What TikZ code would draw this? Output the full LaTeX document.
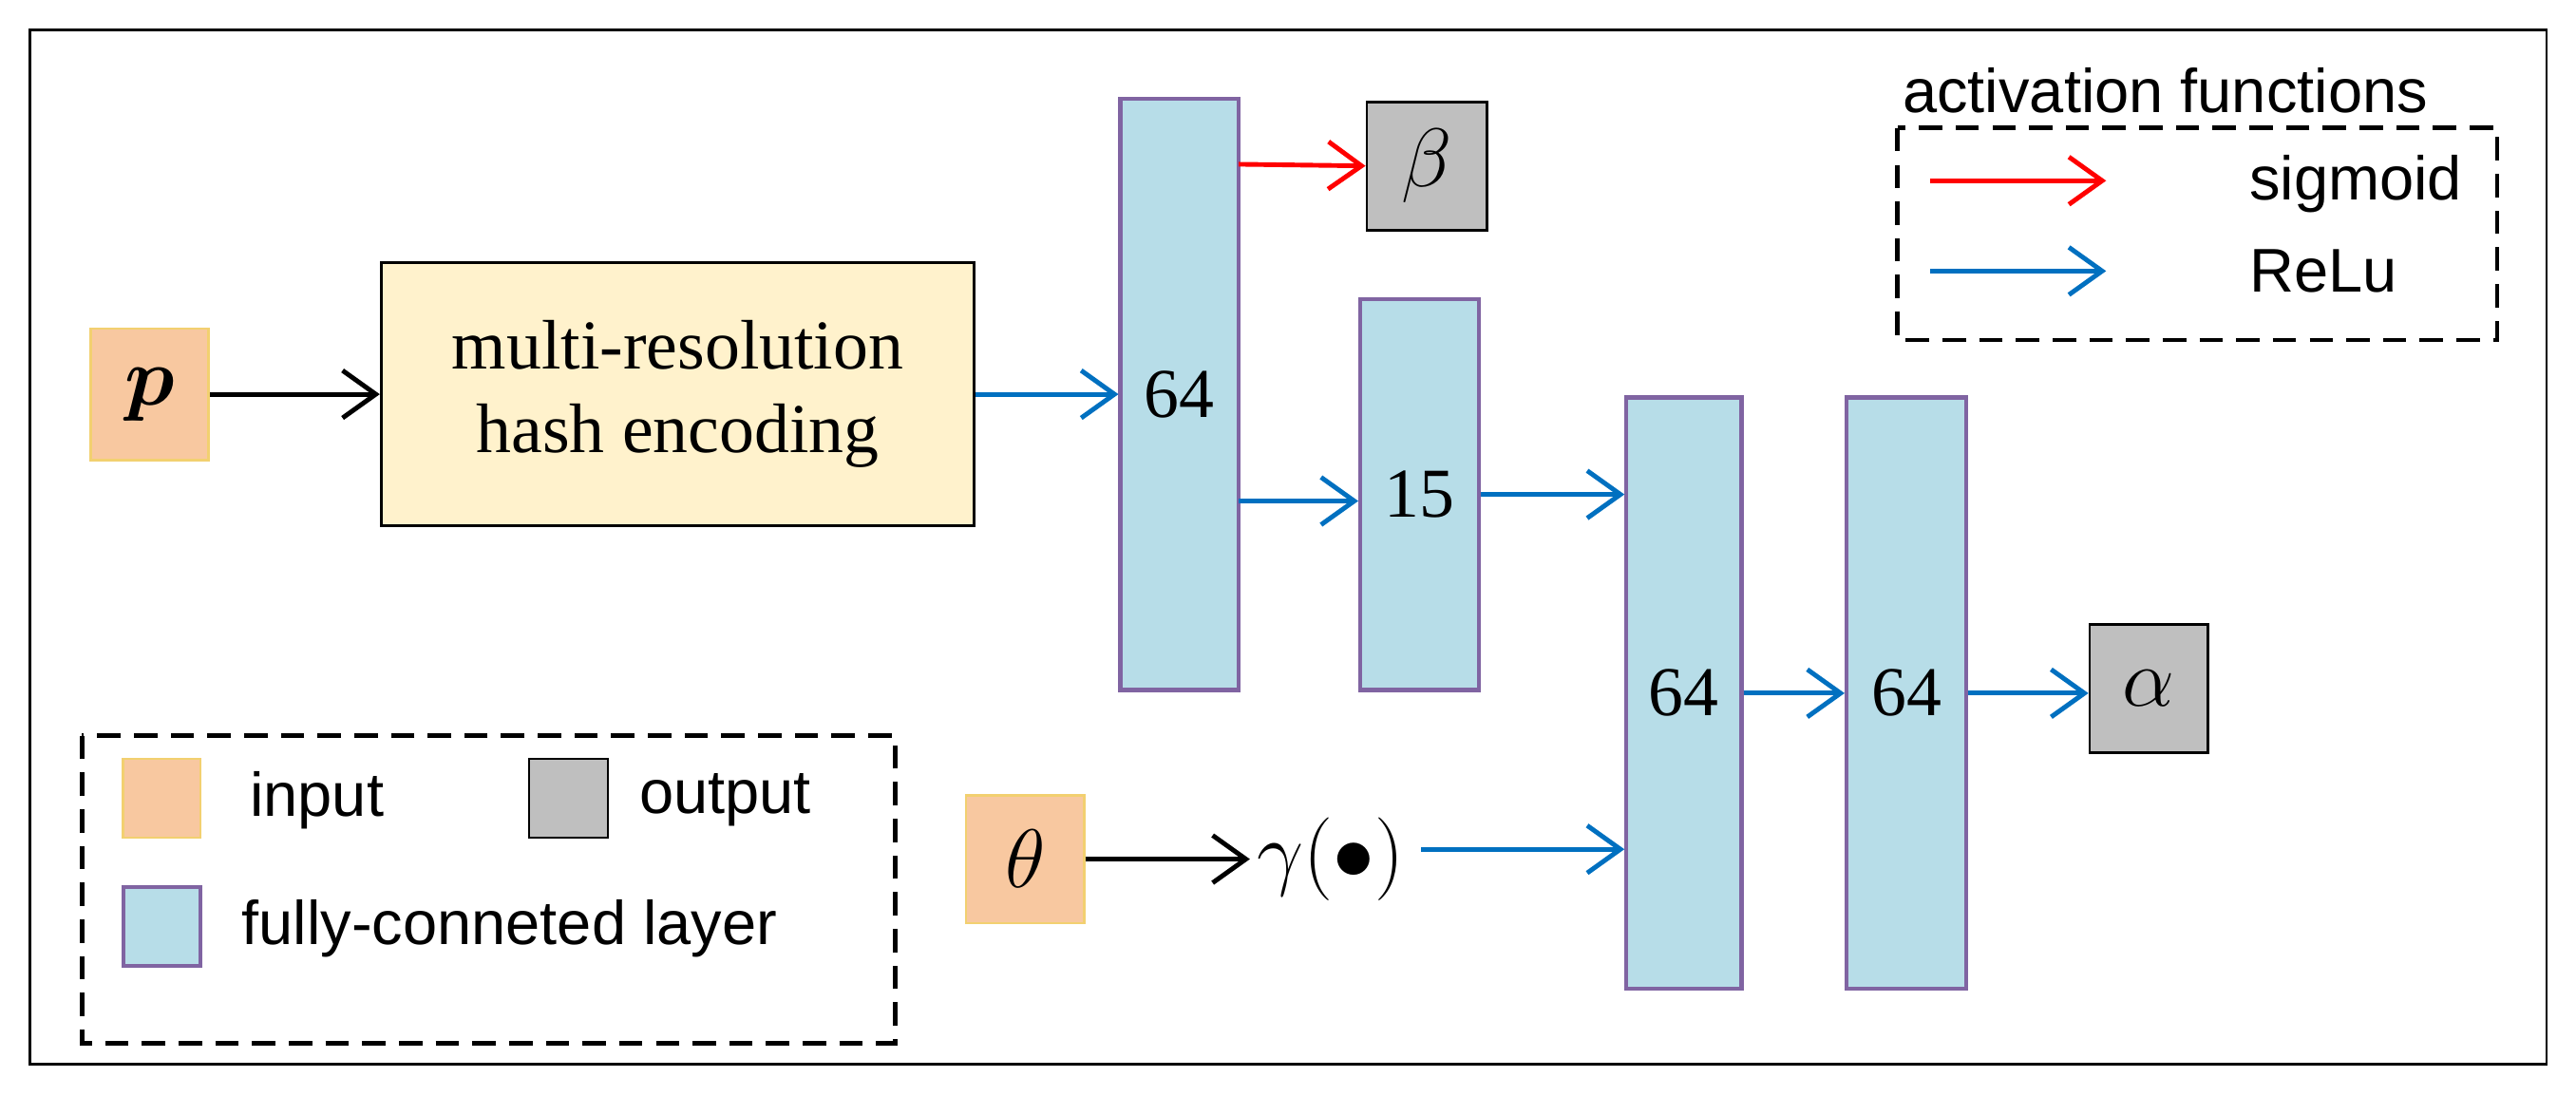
\documentclass[tikz,border=0pt]{standalone}
\usepackage{amsmath}
\usepackage{bm}
\usepackage{fontspec}
\setmainfont{Liberation Serif}
\newfontfamily\sans{Liberation Sans}
\usetikzlibrary{arrows.meta}
\definecolor{inp}{HTML}{F8C8A0}
\definecolor{inpb}{HTML}{F2D070}
\definecolor{hash}{HTML}{FFF2CC}
\definecolor{fc}{HTML}{B7DDE8}
\definecolor{fcb}{HTML}{8064A2}
\definecolor{outc}{HTML}{BFBFBF}
\definecolor{rl}{HTML}{0070C0}
\definecolor{sg}{HTML}{FF0000}
\begin{document}
\begin{tikzpicture}[x=0.017296cm,y=-0.017296cm,
  sz/.style 2 args={minimum width={#1*0.017296cm}, minimum height={#2*0.017296cm}, inner sep=0pt},
  inbox/.style={draw=inpb, fill=inp, line width=0.8pt},
  fcl/.style={draw=fcb, fill=fc, line width=1.2pt, font=\fontsize{21}{24}\selectfont},
  outbox/.style={draw=black, fill=outc, line width=0.8pt},
  arr/.style={line width=1.4pt, -{Straight Barb[length=3.5mm,width=5mm,line width=1.4pt]}},
  relu/.style={arr, draw=rl},
  sigm/.style={arr, draw=sg},
  blk/.style={arr, draw=black},
  leg/.style={font=\sans\fontsize{18.5}{22}\selectfont},
  dsh/.style={draw, line width=1.4pt, dash pattern=on 7pt off 4pt}]
\useasboundingbox (0,0) rectangle (1568,667);
\draw[line width=0.8pt] (18,18) rectangle (1550,648);
% inputs
\node[inbox, sz={72}{80}, font=\fontsize{30}{32}\selectfont] (p) at (91,240) {$\bm{p}$};
\node[draw=black, fill=hash, line width=0.8pt, sz={361}{160}, align=center, font=\fontsize{21}{25}\selectfont] (hash) at (412.5,240) {multi-resolution\\hash encoding};
\node[fcl, sz={72}{360}] (l1) at (718,240) {64};
\node[outbox, sz={73}{78}, font=\fontsize{30}{32}\selectfont] (beta) at (868.5,101) {$\beta$};
\node[fcl, sz={72}{238}] (l2) at (864,301) {15};
\node[fcl, sz={70}{360}] (l3) at (1025,422) {64};
\node[fcl, sz={73}{360}] (l4) at (1160.5,422) {64};
\node[outbox, sz={72}{78}, font=\fontsize{30}{32}\selectfont] (alpha) at (1308,419) {$\alpha$};
\node[inbox, sz={72}{78}, font=\fontsize{30}{32}\selectfont] (theta) at (624,523) {$\theta$};
\node[font=\fontsize{29}{31}\selectfont, inner sep=2pt] (gam) at (810,523) {$\gamma(\bullet)$};
% connectors
\draw[blk] (p) -- (hash);
\draw[relu] (hash.east) -- (l1.west);
\draw[sigm] (754,100) -- (beta.west);
\draw[relu] (754,305) -- (l2.west |- 0,305);
\draw[relu] (l2.east) -- (l3.west |- 0,301);
\draw[relu] (l3.east) -- (l4.west);
\draw[relu] (l4.east) -- (alpha.west |- 0,422);
\draw[blk] (theta.east) -- (gam.west);
\draw[relu] (865,517) -- (l3.west |- 0,517);
% legend bottom-left
\draw[dsh] (50,448) rectangle (545,635);
\node[inbox, sz={47}{48}] (li) at (98.5,486) {};
\node[leg, anchor=west] (lit) at (145,487) {input};
\node[outbox, sz={48}{48}] (lo) at (346,486) {};
\node[leg, anchor=west] (lot) at (382,487) {output};
\node[fcl, sz={47}{48}] (lf) at (98.5,564) {};
\node[leg, anchor=west] (lft) at (140,565) {fully-conneted layer};
% legend top-right
\draw[dsh] (1155,78) rectangle (1520,207);
\node[leg] (act) at (1318,55) {activation functions};
\coordinate (s0) at (1175,110); \coordinate (s1) at (1282,110);
\coordinate (r0) at (1175,165); \coordinate (r1) at (1282,165);
\draw[sigm] (s0) -- (s1);
\draw[relu] (r0) -- (r1);
\node[leg, anchor=west] (st) at (1362,112) {sigmoid};
\node[leg, anchor=west] (rt) at (1362,165) {ReLu};
\end{tikzpicture}
\end{document}
